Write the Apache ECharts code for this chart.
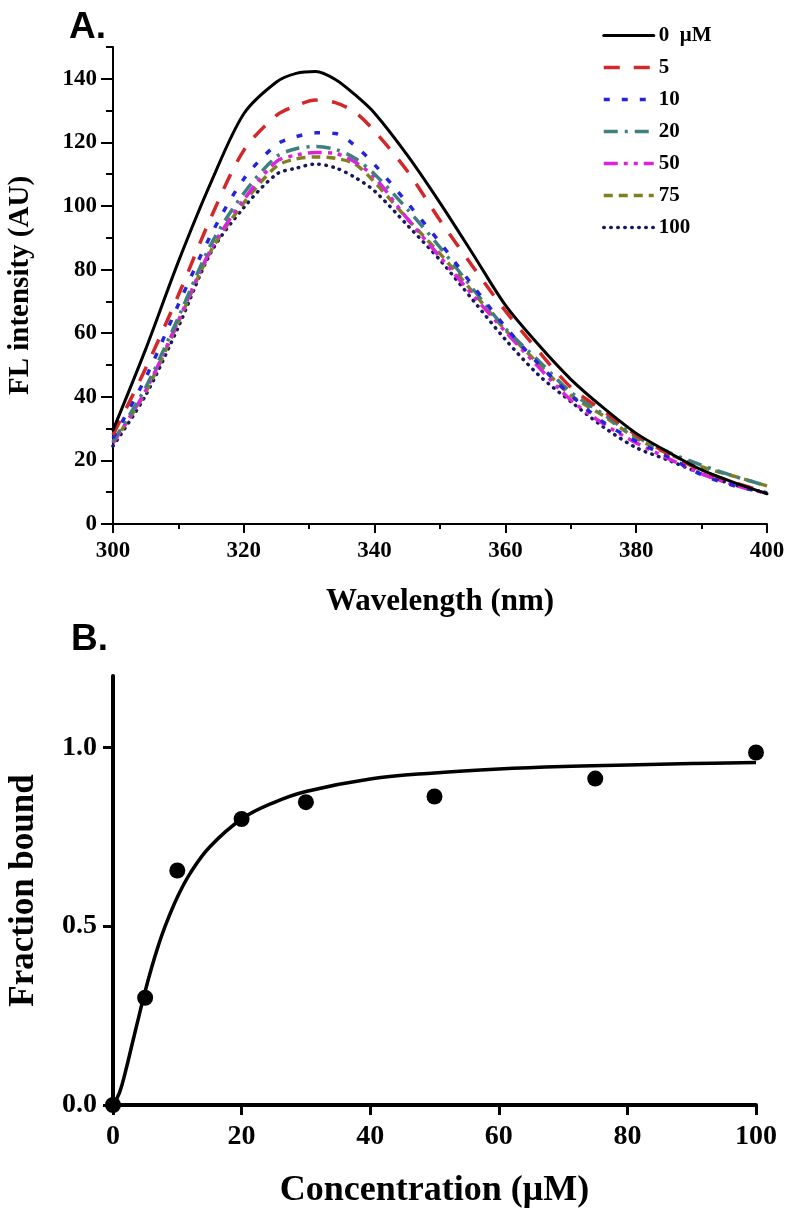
<!DOCTYPE html>
<html>
<head>
<meta charset="utf-8">
<script src="https://cdn.jsdelivr.net/npm/echarts@6/dist/echarts.min.js"></script>
<style>html,body{margin:0;padding:0;background:#fff}#c{width:787px;height:1215px}</style>
</head>
<body>
<div id="c"></div>
<script>
// ---------- Panel A data ----------
var wavelength = [300,305,310,315,320,325,328,331,334,337,340,345,350,355,360,365,370,375,380,385,390,395,400];
var seriesNames = ['0  \u03bcM','5','10','20','50','75','100'];
var fl0   = [29.5,55,82.5,107.5,129,139,141.7,142.3,139.8,135,129.2,116,101,85,68.8,56.5,45.5,36.5,28.5,22.5,17,13,9.5];
var fl5   = [28,49,72,96.5,117.5,128.5,131.5,133.3,132.5,129.5,123.5,111,95.5,81,67,54.5,43,35.5,28,22,16.8,13,10];
var fl10  = [27,46,69,91,108.5,119.3,121.8,123,122.8,119,113,101,88.5,75,62,50.5,40.5,32,26,21,15.5,12,9.8];
var fl20  = [26,43,65,88,104,115.5,118,118.7,117.8,115,110,99,87,74,61.5,51.5,41.5,34.5,27.5,22.5,18.5,15,12];
var fl50  = [25.5,42,64,86.5,102,114,116,116.8,116.5,113.8,109,96,84,72,60.5,49.5,39,31.5,25.5,20.5,15.8,12.3,9.6];
var fl75  = [25.5,41.5,63.5,86,101,112.5,114.8,115.4,115,113.2,107.5,96,85,73,61,50.5,40.5,34,27,22,18,15,12];
var fl100 = [24.5,40.5,62,85.5,99.5,110,111.9,113.2,112,109,104.7,94,83,70.5,58,47,38.5,30.5,24,20,15.8,12.3,9.8];
var xTicksA = [300,320,340,360,380,400];
var yTicksA = [0,20,40,60,80,100,120,140];

// ---------- Panel B data ----------
var concPoints = [0,5,10,20,30,50,75,100];
var fracPoints = [0,0.30,0.656,0.80,0.847,0.863,0.913,0.986];
var concCurve = [0,1,2,3,4,5,6,7,8,10,12,15,20,25,30,40,50,60,70,80,90,100];
var fracCurve = [0,0.034,0.098,0.172,0.246,0.318,0.384,0.443,0.495,0.581,0.648,0.721,0.80,0.846,0.877,0.912,0.929,0.940,0.947,0.951,0.955,0.958];
var xTicksB = [0,20,40,60,80,100];
var yTicksB = [0,0.5,1.0];

var SERIF = '"Liberation Serif","Times New Roman",serif';
var colors = ['#000000','#d42828','#2424dd','#407f7f','#dd22dd','#808020','#18185e'];
var dashes = ['solid',[16,14],[6,12],[14,7,3,7],[14,6,4,6,4,6],[9,6],[0.5,6.5]];
var caps = ['round','butt','butt','butt','butt','butt','round'];
var flData = [fl0,fl5,fl10,fl20,fl50,fl75,fl100];

function pairs(xs, ys){ return xs.map(function(x,i){ return [x, ys[i]]; }); }
function lineStyleFor(i){
  return {color:colors[i], width: i===0?3:3.5, type:dashes[i], cap:caps[i], opacity:1};
}

var series = flData.map(function(vals, i){
  return {
    name: seriesNames[i], type:'line', xAxisIndex:0, yAxisIndex:0,
    data: pairs(wavelength, vals), smooth: 0.3, symbol:'none', showSymbol:false,
    lineStyle: lineStyleFor(i),
    itemStyle:{color:colors[i]}, z: 10-i
  };
});
series.push({
  type:'line', xAxisIndex:2, yAxisIndex:2, data: pairs(concCurve, fracCurve),
  smooth:0.4, symbol:'none', lineStyle:{color:'#000', width:3.5}, z:5
});
series.push({
  type:'scatter', xAxisIndex:2, yAxisIndex:2, data: pairs(concPoints, fracPoints),
  symbol:'circle', symbolSize:16, itemStyle:{color:'#000', opacity:1}, z:6
});

var tickLabelA = {fontFamily:SERIF, fontWeight:'bold', fontSize:23, color:'#000'};
var tickLabelB = {fontFamily:SERIF, fontWeight:'bold', fontSize:28, color:'#000'};

var option = {
  animation:false,
  backgroundColor:'#fff',
  title:[
    {text:'A.', left:64, top:4, textStyle:{fontFamily:'"Liberation Sans",Arial,sans-serif', fontWeight:'bold', fontSize:37, color:'#000'}},
    {text:'B.', left:66, top:616, textStyle:{fontFamily:'"Liberation Sans",Arial,sans-serif', fontWeight:'bold', fontSize:37, color:'#000'}}
  ],
  legend:{
    data: seriesNames.map(function(n, i){ return {name:n, itemStyle:{opacity:0}, lineStyle:lineStyleFor(i)}; }),
    orient:'vertical', left:597, top:20,
    itemWidth:50, itemHeight:14, itemGap:11,
    itemStyle:{opacity:0},
    textStyle:{fontFamily:SERIF, fontWeight:'bold', fontSize:21, color:'#000'}
  },
  grid:[
    {left:113, top:47, width:654, height:477, outerBoundsMode:'none', containLabel:false},
    {left:113, top:676, width:643, height:429, outerBoundsMode:'none', containLabel:false}
  ],
  xAxis:[
    {type:'value', gridIndex:0, min:300, max:400, interval:10,
     name:'Wavelength (nm)', nameLocation:'middle', nameGap:62,
     nameTextStyle:{fontFamily:SERIF, fontWeight:'bold', fontSize:31, color:'#000'},
     axisLine:{onZero:false, lineStyle:{color:'#000', width:2}},
     axisTick:{customValues:xTicksA, length:9, lineStyle:{color:'#000', width:2}},
     axisLabel:{customValues:xTicksA, margin:16, formatter:function(v){return v%20===0?v:'';}, ...tickLabelA},
     splitLine:{show:false}},
    {type:'value', gridIndex:0, min:300, max:400, interval:10, position:'bottom',
     axisLine:{show:false}, axisLabel:{show:false},
     axisTick:{length:5, lineStyle:{color:'#000', width:2}}, splitLine:{show:false}},
    {type:'value', gridIndex:1, min:0, max:100, interval:20,
     name:'Concentration (\u03bcM)', nameLocation:'middle', nameGap:68,
     nameTextStyle:{fontFamily:SERIF, fontWeight:'bold', fontSize:36, color:'#000'},
     axisLine:{onZero:false, lineStyle:{color:'#000', width:4}},
     axisTick:{customValues:xTicksB, length:10, lineStyle:{color:'#000', width:3}},
     axisLabel:{customValues:xTicksB, margin:18, ...tickLabelB},
     splitLine:{show:false}}
  ],
  yAxis:[
    {type:'value', gridIndex:0, min:0, max:150, interval:10,
     name:'FL intensity (AU)', nameLocation:'middle', nameGap:78,
     nameTextStyle:{fontFamily:SERIF, fontWeight:'bold', fontSize:29, color:'#000'},
     axisLine:{show:true, onZero:false, lineStyle:{color:'#000', width:2}},
     axisTick:{show:true, customValues:yTicksA, length:12, lineStyle:{color:'#000', width:2}},
     axisLabel:{customValues:yTicksA, margin:16, formatter:function(v){return v%20===0?v:'';}, ...tickLabelA},
     splitLine:{show:false}},
    {type:'value', gridIndex:0, min:0, max:150, interval:10, position:'left',
     axisLine:{show:false}, axisLabel:{show:false},
     axisTick:{show:true, length:7, lineStyle:{color:'#000', width:2}}, splitLine:{show:false}},
    {type:'value', gridIndex:1, min:0, max:1.2, interval:0.1,
     name:'Fraction bound', nameLocation:'middle', nameGap:72,
     nameTextStyle:{fontFamily:SERIF, fontWeight:'bold', fontSize:35, color:'#000'},
     axisLine:{show:true, onZero:false, lineStyle:{color:'#000', width:4}},
     axisTick:{show:true, customValues:yTicksB, length:10, lineStyle:{color:'#000', width:3}},
     axisLabel:{customValues:yTicksB, margin:16, formatter:function(v){return v.toFixed(1);}, ...tickLabelB},
     splitLine:{show:false}}
  ],
  series: series
};
var chart = echarts.init(document.getElementById('c'), null, {renderer:'canvas'});
chart.setOption(option);
</script>
</body>
</html>
